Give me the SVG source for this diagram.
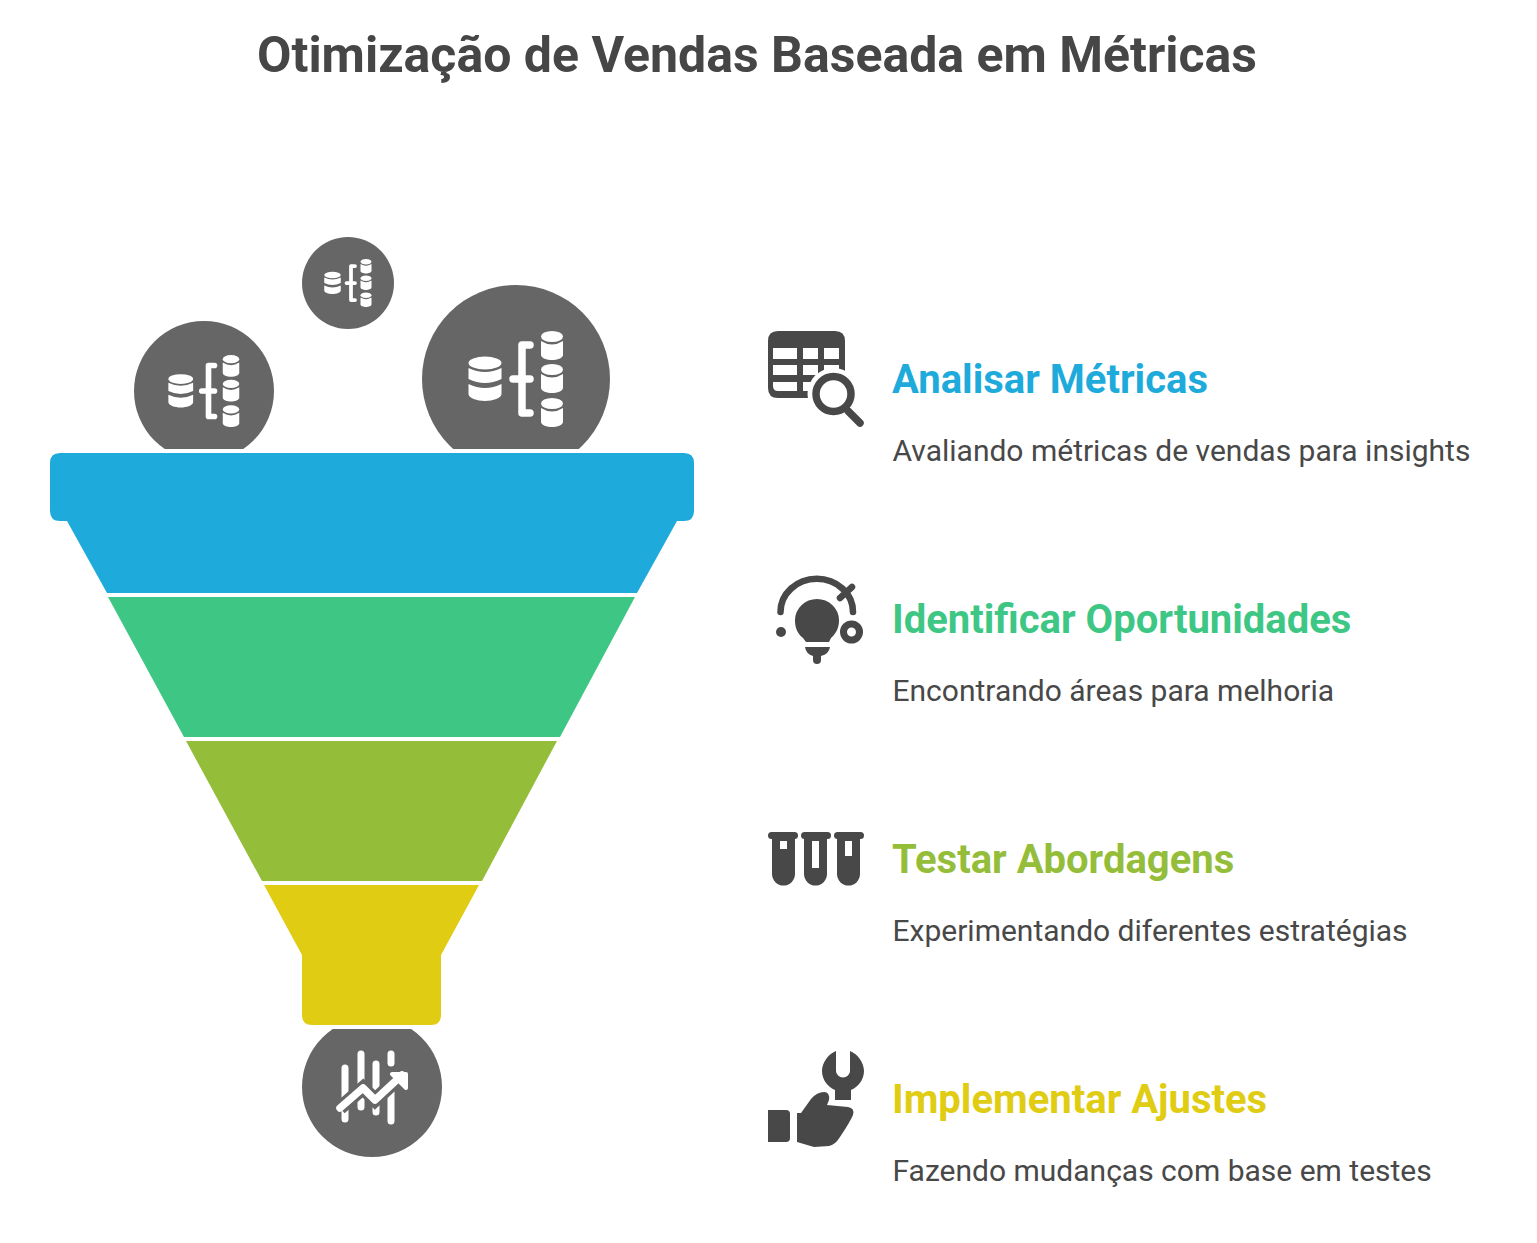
<svg xmlns="http://www.w3.org/2000/svg" width="1537" height="1243" viewBox="0 0 1537 1243">
<style>
text{font-family:Roboto,"Liberation Sans",sans-serif}
.t{font-size:50px;font-weight:700;fill:#464646}
.h{font-size:40px;font-weight:700}
.d{font-size:30px;fill:#484848}
.c{fill:#666}
.w{fill:#fff}
.ws{stroke:#fff;fill:none;stroke-linecap:round;stroke-linejoin:round}
.i{fill:#484848}
.is{stroke:#484848;fill:none;stroke-linecap:round}
</style>
<defs>
<clipPath id="topclip"><rect x="0" y="200" width="1537" height="249"/></clipPath>
<clipPath id="botclip"><rect x="200" y="1029" width="400" height="200"/></clipPath>
<g id="cyl"><ellipse cx="0" cy="-9.500" rx="11" ry="5.500" class="w"/><path class="w" d="M-11-5Q0 2 11-5V9C11 12 5 14 0 14S-11 12-11 9Z"/></g>
<g id="db">
<ellipse cx="-31" cy="-16" rx="16.500" ry="6.500" class="w"/>
<path class="w" d="M-47.500-11Q-31-3-14.500-11V0Q-31 8-47.500 0Z"/>
<path class="w" d="M-47.500 5Q-31 13-14.500 5V15C-14.500 19-23 22-31 22S-47.500 19-47.500 15Z"/>
<path class="ws" stroke-width="7.500" d="M14-34H6V34H14M-3 0H14"/>
<use href="#cyl" x="36" y="-33"/><use href="#cyl" x="36" y="0"/><use href="#cyl" x="36" y="34"/>
</g>
</defs>
<text class="t" x="257" y="72">Otimização de Vendas Baseada em Métricas</text>
<g id="balls">
<g clip-path="url(#topclip)"><circle class="c" cx="204" cy="391" r="70"/><circle class="c" cx="516" cy="379" r="94"/></g>
<circle class="c" cx="348" cy="283" r="46"/>
<use href="#db" transform="translate(204 391) scale(.75)"/>
<use href="#db" transform="translate(348 283) scale(.5)"/>
<use href="#db" transform="translate(516 379)"/>
</g>
<g id="funnel">
<path id="stage1" fill="#1eaadb" d="M60 453H684Q694 453 694 463V511Q694 521 684 521H677L637 593H107L67 521H60Q50 521 50 511V463Q50 453 60 453Z"/>
<path id="stage2" fill="#3ec784" d="M108 597H635L560 737H184Z"/>
<path id="stage3" fill="#94bd3a" d="M186 741H557L482 881H262Z"/>
<path id="stage4" fill="#e0cc12" d="M264 885H479L441 955V1015Q441 1025 431 1025H312Q302 1025 302 1015V955Z"/>
</g>
<g id="output">
<circle class="c" cx="372" cy="1087" r="70" clip-path="url(#botclip)"/>
<path class="ws" stroke-width="7" d="M345 1068V1119M361 1054V1107M376 1064V1112M391 1054V1063M391 1085V1121"/>
<path d="M340 1108L363 1088L375 1100L402 1075" stroke="#666" stroke-width="14" fill="none"/>
<path class="ws" stroke-width="7.500" d="M340 1108L363 1088L375 1100L402 1075"/>
<path class="w" stroke="#fff" stroke-width="4" stroke-linejoin="round" d="M392 1074H406V1088Z"/>
</g>
<g id="item1">
<path class="i" fill-rule="evenodd" d="M778 331H835Q845 331 845 341V388Q845 398 835 398H778Q768 398 768 388V341Q768 331 778 331ZM773 348V359H797V348ZM803 348V359H818V348ZM824 348V359H839V348ZM773 365V375H797V365ZM803 365V375H818V365ZM824 365V375H839V365ZM773 382V386Q773 391 778 391H797V382ZM803 382V391H818V382Z"/>
<circle cx="833.500" cy="394" r="26" fill="#fff"/>
<circle cx="833.500" cy="394" r="17.500" class="is" stroke-width="7.500"/>
<path class="is" stroke-width="7.500" d="M848 411L860 423"/>
<text class="h" x="892" y="393" fill="#1eaadb">Analisar Métricas</text>
<text class="d" x="892.500" y="461">Avaliando métricas de vendas para insights</text>
</g>
<g id="item2">
<path class="is" stroke-width="6.500" d="M780.500 612A36 33 0 0 1 853 612M840 598L852 587"/>
<path class="i" d="M806 642L803 638C795 632 795 623 795 620A22 21 0 0 1 839 620C839 625 838 632 831 638L829 642Z"/>
<path class="i" d="M805 647H830Q829 654 821 656V660A4 4 0 0 1 813 660V656Q806 654 805 647Z"/>
<circle class="i" cx="781" cy="632" r="5"/>
<circle cx="851.500" cy="632" r="8" class="is" stroke-width="7"/>
<text class="h" x="892" y="633" fill="#3ec784">Identificar Oportunidades</text>
<text class="d" x="892.500" y="701">Encontrando áreas para melhoria</text>
</g>
<g id="item3">
<path class="i" d="M772 835H795V874A11.500 11.500 0 0 1 772 874Z"/><rect class="i" x="768" y="832" width="30" height="7" rx="3.500"/>
<path class="i" d="M804 835H827V874A11.500 11.500 0 0 1 804 874Z"/><rect class="i" x="801" y="832" width="30" height="7" rx="3.500"/>
<path class="i" d="M837 835H860V874A11.500 11.500 0 0 1 837 874Z"/><rect class="i" x="834" y="832" width="30" height="7" rx="3.500"/>
<path class="w" d="M780 841V849H787V841ZM812 841V868H819V841ZM845 841V856H852V841Z"/>
<text class="h" x="892" y="873" fill="#94bd3a">Testar Abordagens</text>
<text class="d" x="892.500" y="941">Experimentando diferentes estratégias</text>
</g>
<g id="item4">
<path class="i" d="M836 1051V1071A7 6.500 0 0 0 850 1071V1051C858 1054 864 1063 864 1071C864 1080 858 1087 851 1090V1100H835V1090C828 1087 822 1080 822 1071C822 1063 828 1054 836 1051Z"/>
<path class="i" d="M768 1110H786Q790 1110 790 1114V1138Q790 1142 786 1142H768Z"/>
<path class="i" d="M797 1113H801L811 1099Q817 1092 824 1092Q830 1092 829 1100L827 1105L848 1107Q855 1108 853 1115Q850 1122 840 1137Q835 1145 829 1146L814 1147L797 1142Z"/>
<text class="h" x="892" y="1113" fill="#e0cc12">Implementar Ajustes</text>
<text class="d" x="892.500" y="1181">Fazendo mudanças com base em testes</text>
</g>
</svg>
